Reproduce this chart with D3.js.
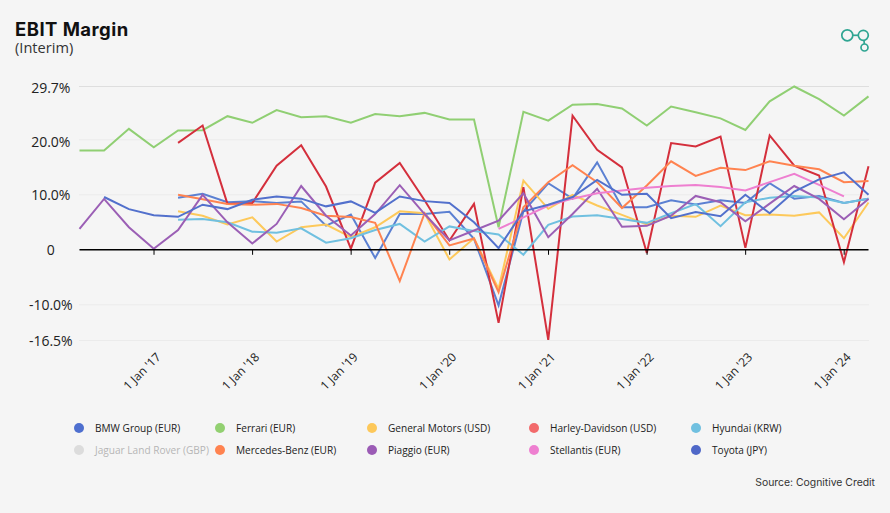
<!DOCTYPE html>
<html><head><meta charset="utf-8">
<script src="https://cdnjs.cloudflare.com/ajax/libs/d3/7.8.5/d3.min.js"></script>
<style>
html,body{margin:0;padding:0;background:#f5f5f5;overflow:hidden}
svg{display:block}
text{font-family:"Open Sans",sans-serif}
</style></head><body><svg id="c" width="890" height="513"></svg>
<script>
const quarters=["2016-03-31","2016-06-30","2016-09-30","2016-12-31","2017-03-31","2017-06-30","2017-09-30","2017-12-31","2018-03-31","2018-06-30","2018-09-30","2018-12-31","2019-03-31","2019-06-30","2019-09-30","2019-12-31","2020-03-31","2020-06-30","2020-09-30","2020-12-31","2021-03-31","2021-06-30","2021-09-30","2021-12-31","2022-03-31","2022-06-30","2022-09-30","2022-12-31","2023-03-31","2023-06-30","2023-09-30","2023-12-31","2024-03-31"];
const _=null;
const bmw=[_,_,_,_,9.45,10.2,8.65,8.85,8.5,8.8,4.4,6.4,-1.5,6.5,6.5,6.9,2,-10.1,7,12.1,9.3,15.9,7.75,7.75,9,8.25,9,8.5,12.1,9.3,9.8,8.5,9.3];
const ferrari=[18.05,18.05,22,18.65,21.7,21.75,24.3,23.1,25.4,24.1,24.3,23.1,24.7,24.3,24.9,23.7,23.7,4.1,25.1,23.5,26.4,26.5,25.7,22.6,26.05,25,23.9,21.8,27,29.7,27.4,24.4,27.9];
const gm=[_,_,_,_,7,6.2,4.6,5.9,1.5,4.1,4.6,2.3,4.1,7,6.65,-1.75,2.1,-7.1,12.6,7.45,10,8.05,6.35,4.6,6.2,6,8.05,6.3,6.4,6.2,6.8,2.1,8.6];
const harley=[_,_,_,_,19.45,22.6,8.35,8.5,15.3,19,11.5,0.2,12.2,15.8,9,1.7,8.35,-13.3,11.4,-16.4,24.4,18.2,15,-0.6,19.4,18.8,20.6,0.35,20.8,15.3,13.5,-2.25,15.2];
const hyundai=[_,_,_,_,5.45,5.6,5,3.3,3.1,3.9,1.3,2.1,3.6,4.7,1.5,4.25,3.4,2.8,-0.9,4.55,6.05,6.3,5.6,4.9,6.65,8.3,4.3,8.65,9.45,9.8,9.5,8.5,9.3];
const mercedes=[_,_,_,_,10,9.2,8.35,8.2,8.35,7.6,6.2,5.95,4.9,-5.7,6.65,0.8,2.05,-7.7,7.75,12.3,15.4,12.3,7.6,11.7,16.1,13.45,14.9,14.5,16.1,15.3,14.65,12.3,12.5];
const piaggio=[3.8,9.25,4.1,0.2,3.6,10,5,1.15,4.7,11.6,6.2,2.6,6.5,11.75,6.5,1.7,3.5,5.3,10.3,2.3,6.5,11.1,4.2,4.35,6.2,9.8,8.65,5.2,8.4,11.6,9.25,5.55,9.25];
const stellantis=[_,_,_,_,_,_,_,_,_,_,_,_,_,_,_,_,_,3.8,5.9,8.05,9.3,10.3,10.8,11.3,11.6,11.8,11.4,10.8,12.3,13.8,11.8,9.7,_];
const toyota=[_,9.6,7.4,6.3,6,8.2,7.4,9.1,9.7,9.3,7.9,8.8,6.7,9.7,8.85,8.5,5,0.3,7,8.2,9.6,12.7,10,10.2,5.75,6.85,6.1,10,6.65,10.6,12.8,14.1,10];
const seriesNames=["BMW Group (EUR)","Ferrari (EUR)","General Motors (USD)","Harley-Davidson (USD)","Hyundai (KRW)","Jaguar Land Rover (GBP)","Mercedes-Benz (EUR)","Piaggio (EUR)","Stellantis (EUR)","Toyota (JPY)"];
const seriesValues=[bmw,ferrari,gm,harley,hyundai,null,mercedes,piaggio,stellantis,toyota];
const lineColors=["#5b80d2","#90cf73","#fdc95b","#d42f3c","#70c0e0","#dcdcdc","#ff8350","#9b5fb5","#ee7fd0","#5270cc"];
const legendColors=["#4e6fcf","#92d071","#fdc85a","#f26a6b","#70c0e0","#dcdcdc","#ff8350","#9b5bb5","#ee7fd0","#4f68c8"];
const yTicks=[29.7,20,10,0,-10,-16.5];
const yTickLabels=["29.7%","20.0%","10.0%","0","-10.0%","-16.5%"];
const xTickYears=[2017,2018,2019,2020,2021,2022,2023,2024];

const svg=d3.select("#c");
const parse=d3.utcParse("%Y-%m-%d");
const dates=quarters.map(parse);
const x=d3.scaleUtc().domain([dates[0],dates[dates.length-1]]).range([79.5,868.5]);
const y=d3.scaleLinear().domain([-16.5,29.7]).range([340.5,86.5]);

svg.append("rect").attr("width",890).attr("height",513).attr("fill","#f5f5f5");
svg.append("text").attr("x",15).attr("y",36).attr("font-size",18.5).attr("font-weight",700).style("font-family","Inter").style("letter-spacing","0.45px").attr("fill","#111").text("EBIT Margin");
svg.append("text").attr("x",15).attr("y",53).attr("font-size",14.6).attr("fill","#333").text("(Interim)");

const gy=svg.append("g").attr("transform","translate(79,0)").call(d3.axisLeft(y).offset(0).tickValues(yTicks).tickSize(0).tickPadding(8).tickFormat((d,i)=>yTickLabels[i]));
gy.select(".domain").remove();
gy.selectAll("text").attr("font-size",14).attr("fill","#222").attr("text-anchor","middle").attr("x",-28.2).attr("y",d=>d>=20?2.2:1).style("font-family",'"Open Sans"');
gy.selectAll(".tick line").attr("x2",790).attr("stroke",d=>d===29.7?"#dedede":"#ebebeb").attr("stroke-width",1);

const line=d3.line().defined(d=>d.v!==null).x(d=>x(d.d)).y(d=>y(d.v));
seriesNames.forEach((n,i)=>{
  if(!seriesValues[i])return;
  svg.append("path").datum(seriesValues[i].map((v,k)=>({v,d:dates[k]})))
   .attr("d",line).attr("fill","none").attr("stroke",lineColors[i]).attr("stroke-width",2).attr("stroke-linejoin","miter");
});

const gx=svg.append("g").attr("transform",`translate(0,${y(0)})`).call(d3.axisBottom(x).offset(0).tickValues(xTickYears.map(v=>new Date(Date.UTC(v,0,1)))).tickSizeInner(5).tickSizeOuter(0).tickFormat(d=>`1 Jan '${String(d.getUTCFullYear()).slice(2)}`));
gx.select(".domain").attr("stroke","#000").attr("stroke-width",1.5);
gx.selectAll(".tick line").attr("stroke","#000").attr("stroke-width",1);
gx.selectAll("text").attr("font-size",12).attr("fill","#222").attr("text-anchor","end").attr("dy",0).attr("y",0).attr("transform","translate(7.5,108) rotate(-45)").style("font-family",'"Open Sans"');

const colX=[79,220,372,534,696], rowY=[428,450];
seriesNames.forEach((n,i)=>{
  const cx=colX[i%5], cy=rowY[Math.floor(i/5)];
  const g=svg.append("g");
  g.append("circle").attr("cx",cx).attr("cy",cy).attr("r",5).attr("fill",legendColors[i]);
  g.append("text").attr("x",cx+16).attr("y",cy+3.8).attr("font-size",10.1).attr("fill",i===5?"#b5b5b5":"#222").text(n);
});
svg.append("text").attr("x",875).attr("y",486).attr("text-anchor","end").attr("font-size",10.4).attr("fill","#333").style("font-family","Inter").text("Source: Cognitive Credit");

const ic=svg.append("g").attr("fill","none").attr("stroke","#2fa592").attr("stroke-width",1.7);
ic.append("circle").attr("cx",847.3).attr("cy",35.3).attr("r",5.5);
ic.append("circle").attr("cx",863.3).attr("cy",35.3).attr("r",5);
ic.append("circle").attr("cx",864.5).attr("cy",47.5).attr("r",3.5);
ic.append("line").attr("x1",852.8).attr("x2",858.3).attr("y1",35.3).attr("y2",35.3);
ic.append("line").attr("x1",864).attr("x2",864.3).attr("y1",40.3).attr("y2",44);
</script></body></html>
